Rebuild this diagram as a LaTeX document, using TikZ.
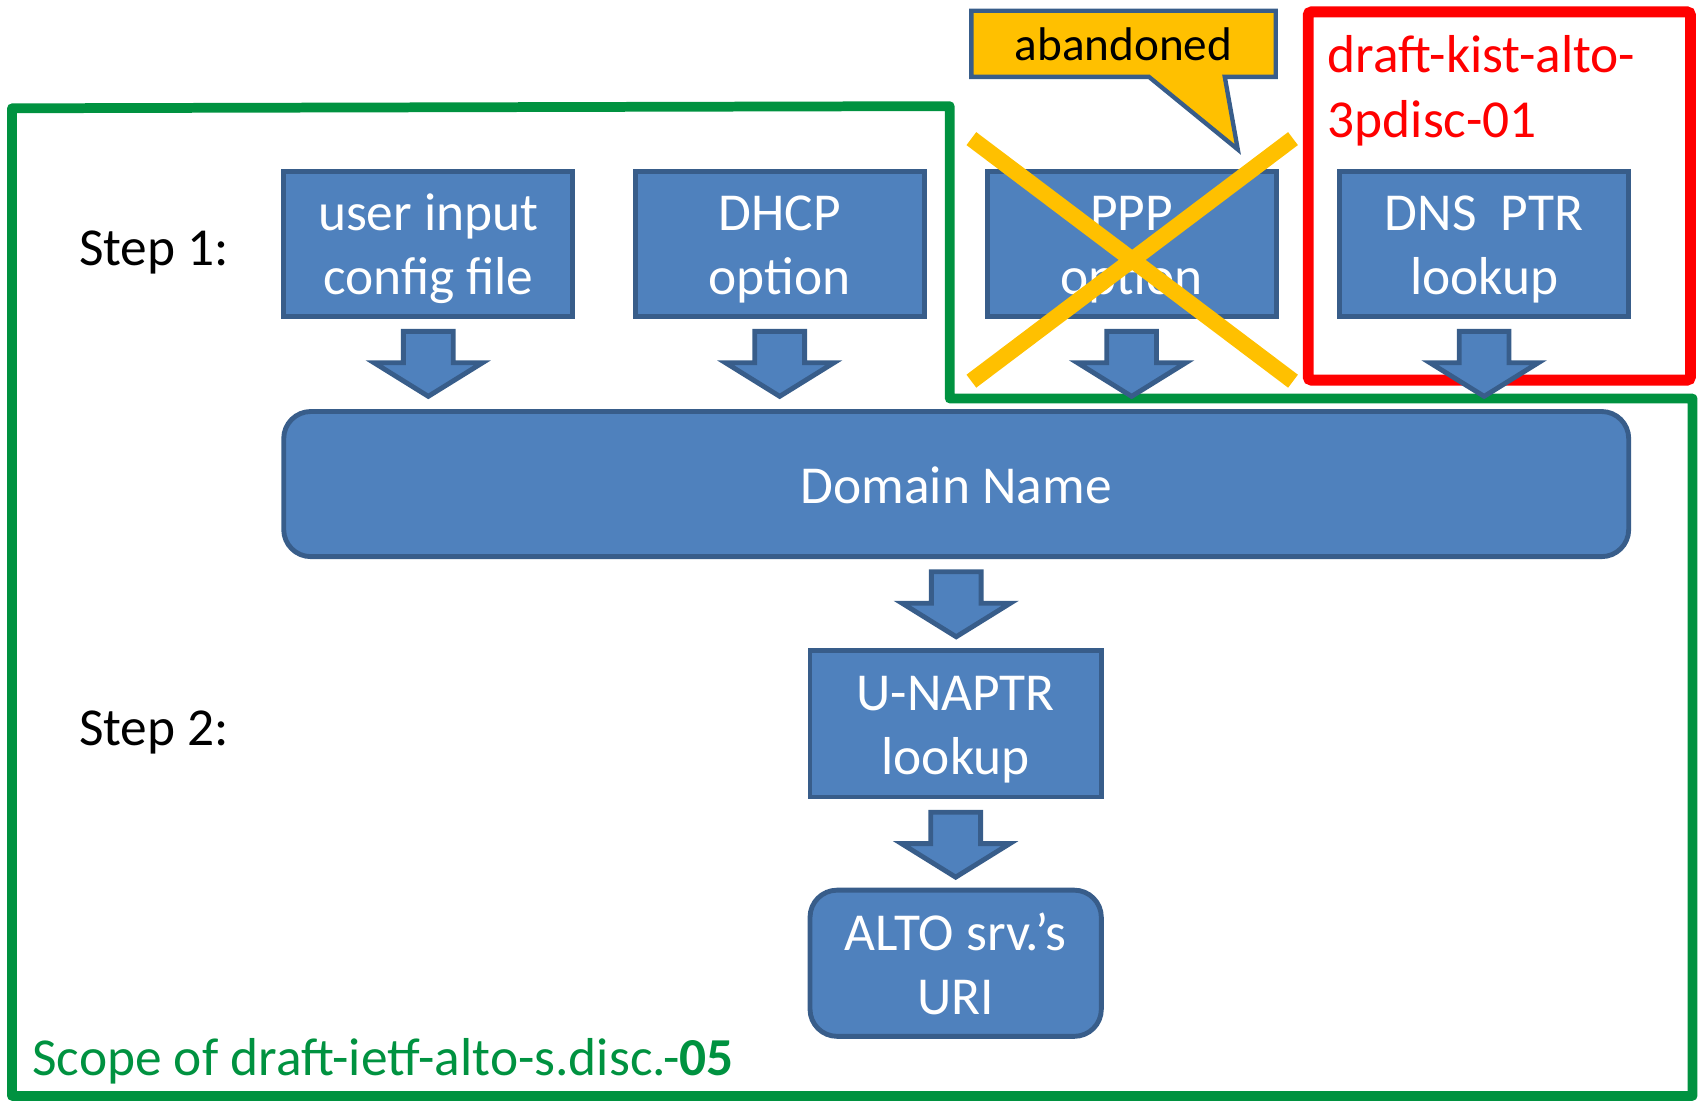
\documentclass[tikz,border=0pt]{standalone}
\usepackage{fontspec}
\setmainfont{Carlito}
\usetikzlibrary{calc}
\definecolor{boxfill}{HTML}{4F81BD}
\definecolor{boxline}{HTML}{385D8A}
\definecolor{scopegreen}{RGB}{0,146,64}
\definecolor{gold}{HTML}{FFC000}
\definecolor{kistred}{RGB}{255,0,0}
\newcommand\bigfont{\fontsize{49.3}{59}\selectfont}
\newcommand\bs{\rule[-9pt]{0pt}{53pt}}
\newcommand\blockarr[1]{%
  \draw[barrow] ($(#1.south)+(-23,14)$) -- ($(#1.south)+(23,14)$) -- ($(#1.south)+(23,43)$)
    -- ($(#1.south)+(50,43)$) -- ($(#1.south)+(0,74)$) -- ($(#1.south)+(-50,43)$)
    -- ($(#1.south)+(-23,43)$) -- cycle;}
\begin{document}
\begin{tikzpicture}[x=1pt,y=-1pt,
  box/.style={draw=boxline, line width=4.5pt, fill=boxfill, text=white,
    minimum width=267pt, minimum height=134pt, inner sep=0pt, outer sep=0pt,
    align=center, font=\bigfont},
  barrow/.style={draw=boxline, line width=4.5pt, fill=boxfill, line join=miter},
  xline/.style={draw=gold, line width=15pt},
  label/.style={font=\bigfont, inner sep=0pt, outer sep=0pt}]
\useasboundingbox (0,0) rectangle (1568,1017);
% scope outline
\draw[scopegreen, line width=9pt, line join=round]
  (11,100) -- (877,98) -- (877,368) -- (1563,368) -- (1563,1012) -- (11,1012) -- cycle;
% red outline
\draw[kistred, line width=10pt, rounded corners=3pt] (1208,11) rectangle (1561,351);
% boxes
\node[box] (user) at (395.5,225) {\bs user input\\\bs config file};
\node[box] (dhcp) at (720,225) {\bs DHCP\\\bs option};
\node[box] (ppp) at (1045,225) {\bs PPP\\\bs option};
\node[box] (dns) at (1370.5,225) {\bs DNS~ PTR\\\bs lookup};
\node[box, rounded corners=25pt, minimum width=1242pt] (dom) at (883,447) {\bs Domain Name};
\node[box, minimum width=269pt, minimum height=135pt] (naptr) at (882.5,668.5) {\bs U-NAPTR\\\bs lookup};
\node[box, rounded corners=25pt, minimum width=269pt, minimum height=135pt] (alto) at (882.5,889.5) {\bs ALTO srv.’s\\\bs URI};
% block arrows
\blockarr{user}
\blockarr{dhcp}
\blockarr{ppp}
\blockarr{dns}
\blockarr{dom}
\blockarr{naptr}
% cross over PPP
\draw[xline] (897,128) -- (1194,352);
\draw[xline] (1194,128) -- (897,352);
% callout
\draw[draw=boxline, fill=gold, line width=4pt, line join=miter]
  (897,10) -- (1178,10) -- (1178,71) -- (1131,71) -- (1143,138) -- (1061,71) -- (897,71) -- cycle;
\node[font=\fontsize{43.6}{52}\selectfont, inner sep=0pt] (aband) at (1037.5,41) {abandoned};
% labels
\node[label, anchor=base west] (step1) at (73,245) {Step 1:};
\node[label, anchor=base west] (step2) at (73,688) {Step 2:};
\node[label, anchor=north west, align=left, text=kistred, font=\fontsize{49.3}{60}\selectfont] (kist) at (1226,33) {draft-kist-alto-\\3pdisc-01};
\node[label, anchor=base west, text=scopegreen] (scope) at (30,993) {Scope of draft-ietf-alto-s.disc.-\textbf{05}};
\end{tikzpicture}
\end{document}
